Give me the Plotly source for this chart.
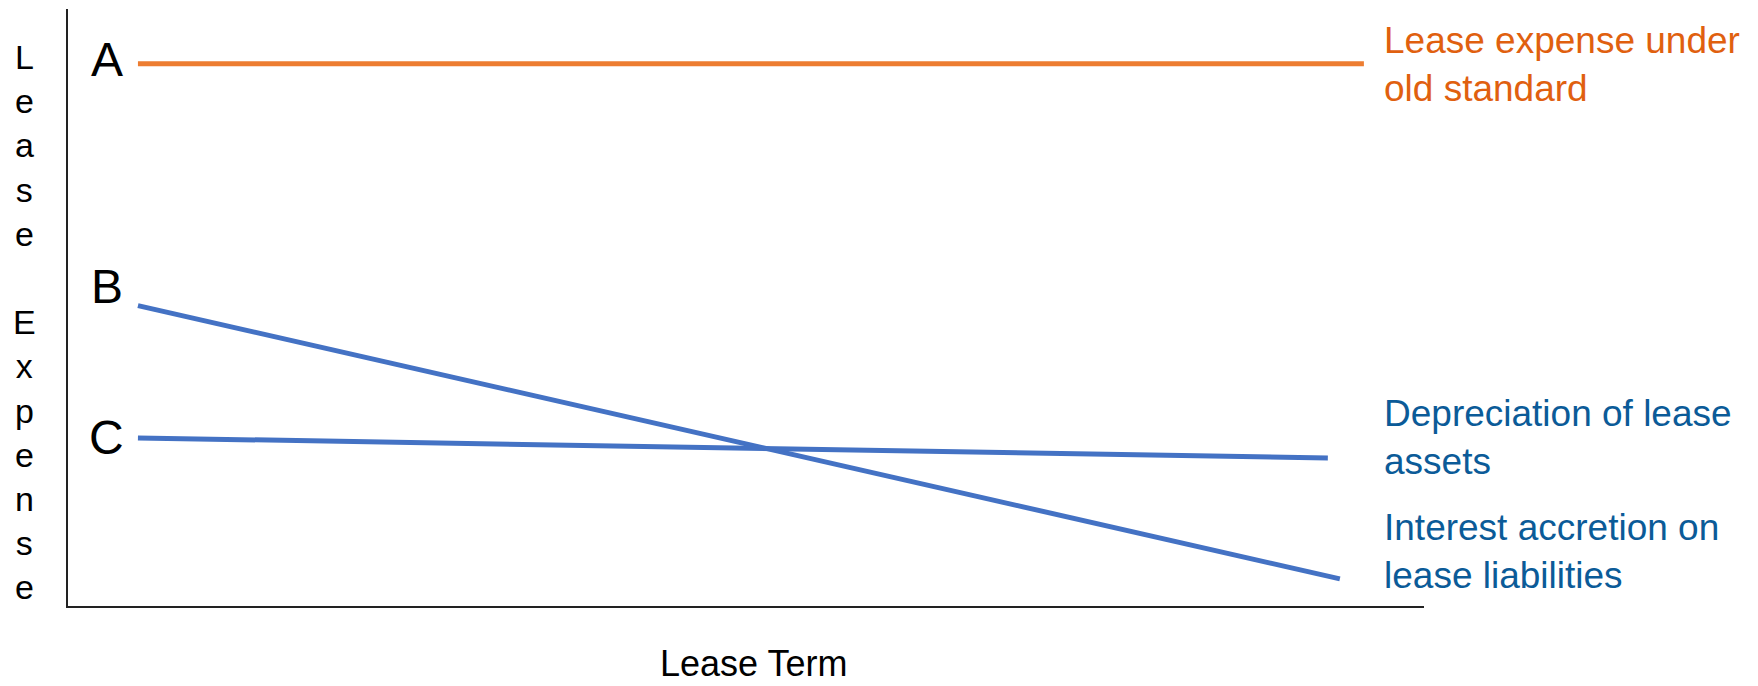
import plotly.graph_objects as go

# ---- data ----
term_old = [0.0, 10.2]          # lease term span, old standard line
expense_old = [100.0, 100.0]    # A: straight-line lease expense
term_interest = [0.0, 10.0]
expense_interest = [55.4, 5.0]  # B -> interest accretion declines
term_depr = [0.0, 9.9]
expense_depr = [31.0, 27.3]     # C -> depreciation roughly flat

point_labels = ["A", "B", "C"]
point_values = [100.7, 59.0, 31.0]

series_labels = [
    "Lease expense under<br>old standard",
    "Depreciation of lease<br>assets",
    "Interest accretion on<br>lease liabilities",
]
series_label_y = [99.8, 31.0, 10.0]

x_title = "Lease Term"
y_title = "L<br>e<br>a<br>s<br>e<br> <br>E<br>x<br>p<br>e<br>n<br>s<br>e"

ORANGE_LINE = "#ED7D31"
ORANGE_TEXT = "#E0600F"
BLUE_LINE = "#4472C4"
BLUE_TEXT = "#0B5B98"
FONT = "Liberation Sans, Arial, Helvetica, sans-serif"

W, H = 1758, 686
L, R, T, B = 68, 334, 9, 80
pw, ph = W - L - R, H - T - B

fig = go.Figure()
fig.add_trace(go.Scatter(x=term_old, y=expense_old, mode="lines",
                         line=dict(color=ORANGE_LINE, width=5), hoverinfo="skip"))
fig.add_trace(go.Scatter(x=term_interest, y=expense_interest, mode="lines",
                         line=dict(color=BLUE_LINE, width=5), hoverinfo="skip"))
fig.add_trace(go.Scatter(x=term_depr, y=expense_depr, mode="lines",
                         line=dict(color=BLUE_LINE, width=5), hoverinfo="skip"))

# letters A, B, C
for lab, v in zip(point_labels, point_values):
    fig.add_annotation(x=-0.26, y=v, xref="x", yref="y", text=lab, showarrow=False,
                       xanchor="center", yanchor="middle",
                       font=dict(family=FONT, size=48, color="black"))

# series labels at right
label_colors = [ORANGE_TEXT, BLUE_TEXT, BLUE_TEXT]
for txt, yv, col in zip(series_labels, series_label_y, label_colors):
    fig.add_annotation(x=(1382 - L) / pw, y=yv, xref="paper", yref="y", text=txt,
                       showarrow=False, xanchor="left", yanchor="middle", align="left",
                       font=dict(family=FONT, size=37, color=col))

# axis titles
fig.add_annotation(x=(25 - L) / pw, y=(H - B - 322) / ph, xref="paper", yref="paper",
                   text=y_title, showarrow=False, xanchor="center", yanchor="middle",
                   font=dict(family=FONT, size=34, color="black"))
fig.add_annotation(x=(753 - L) / pw, y=(H - B - 685) / ph, xref="paper", yref="paper",
                   text=x_title, showarrow=False, xanchor="center", yanchor="bottom",
                   borderpad=0, font=dict(family=FONT, size=36, color="black"))

fig.update_layout(
    width=W, height=H,
    margin=dict(l=L, r=R, t=T, b=B, pad=0),
    paper_bgcolor="white", plot_bgcolor="white",
    showlegend=False,
    xaxis=dict(range=[-0.582, 10.70], showgrid=False, zeroline=False, showticklabels=False,
               ticks="", showline=True, linecolor="#222222", linewidth=1.5, fixedrange=True),
    yaxis=dict(range=[0, 110.1], showgrid=False, zeroline=False, showticklabels=False,
               ticks="", showline=True, linecolor="#222222", linewidth=1.5, fixedrange=True),
)

fig.write_html("out.html", config={"displayModeBar": False})
